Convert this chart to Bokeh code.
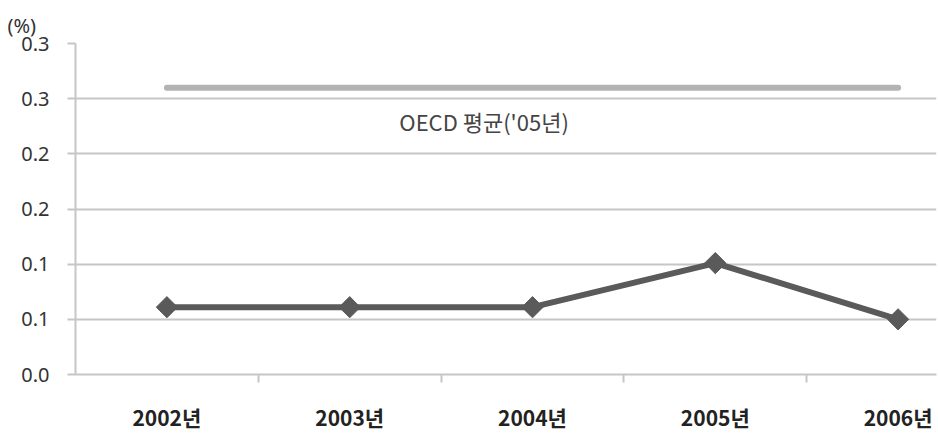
from bokeh.plotting import figure
from bokeh.models import Range1d, FixedTicker, ColumnDataSource
from bokeh.core.properties import value
from bokeh.embed import file_html
from bokeh.resources import INLINE

# data
years = ["2002년", "2003년", "2004년", "2005년", "2006년"]
share = [0.061, 0.061, 0.061, 0.101, 0.050]
oecd_avg = 0.26
oecd_label = "OECD 평균('05년)"
y_ticks = [0.0, 0.05, 0.10, 0.15, 0.20, 0.25, 0.30]
y_tick_labels = ["0.0", "0.1", "0.1", "0.2", "0.2", "0.3", "0.3"]

xs = list(range(len(years)))
src = ColumnDataSource(dict(x=xs, y=share))
oecd_src = ColumnDataSource(dict(x=xs, y=[oecd_avg] * len(years)))

GRID = "#c6c6c6"
TEXT = "#333333"

p = figure(width=938, height=434, output_backend="svg", toolbar_location=None,
           x_range=Range1d(-0.5, 4.21), y_range=Range1d(0, 0.3),
           min_border_left=75, min_border_right=2, min_border_top=43,
           min_border_bottom=60, title="(%)")
p.outline_line_color = None
p.background_fill_color = "white"
p.border_fill_color = "white"

p.title.text_font = "Noto Sans"
p.title.text_font_size = "20px"
p.title.text_font_style = "normal"
p.title.text_color = TEXT
p.title.align = "left"
p.title.offset = -68
p.title.standoff = 9

# y axis
p.yaxis.ticker = FixedTicker(ticks=y_ticks, minor_ticks=[])
p.yaxis.major_label_overrides = {t: lab for t, lab in zip(y_ticks, y_tick_labels)}
p.yaxis.major_label_text_font = "Noto Sans"
p.yaxis.major_label_text_font_size = "20px"
p.yaxis.major_label_text_color = TEXT
p.yaxis.major_label_standoff = 18
p.yaxis.major_tick_out = 8
p.yaxis.major_tick_in = 0
p.yaxis.minor_tick_line_color = None
p.yaxis.axis_line_color = GRID
p.yaxis.axis_line_width = 2
p.yaxis.major_tick_line_color = GRID
p.yaxis.major_tick_line_width = 2

# x axis: labels at category centres, tick marks between categories
p.xaxis.ticker = FixedTicker(ticks=xs, minor_ticks=[i + 0.5 for i in xs[:-1]])
p.xaxis.major_label_overrides = {i: y for i, y in zip(xs, years)}
p.xaxis.major_label_text_font = "Noto Sans CJK KR"
p.xaxis.major_label_text_font_style = "bold"
p.xaxis.major_label_text_font_size = "21px"
p.xaxis.major_label_text_color = "#222222"
p.xaxis.major_label_standoff = 19
p.xaxis.major_tick_line_color = None
p.xaxis.major_tick_out = 0
p.xaxis.major_tick_in = 0
p.xaxis.minor_tick_out = 8
p.xaxis.minor_tick_in = 0
p.xaxis.minor_tick_line_color = GRID
p.xaxis.minor_tick_line_width = 2
p.xaxis.axis_line_color = GRID
p.xaxis.axis_line_width = 2

p.xgrid.grid_line_color = None
p.ygrid.grid_line_color = GRID
p.ygrid.grid_line_width = 2

# OECD average reference line
p.line("x", "y", source=oecd_src, line_color="#b3b3b3", line_width=6, line_cap="round")
p.text(x=[1.735], y=[0.23], text=[oecd_label], text_font=value("Noto Sans CJK KR"),
       text_font_size="22px", text_color="#444444", text_align="center",
       text_baseline="middle")

# series
p.line("x", "y", source=src, line_color="#5a5a5a", line_width=6)
p.scatter("x", "y", source=src, marker="square", angle=0.785398, size=15,
          fill_color="#5a5a5a", line_color="#5a5a5a")

open("out.html", "w").write(file_html(p, INLINE))
